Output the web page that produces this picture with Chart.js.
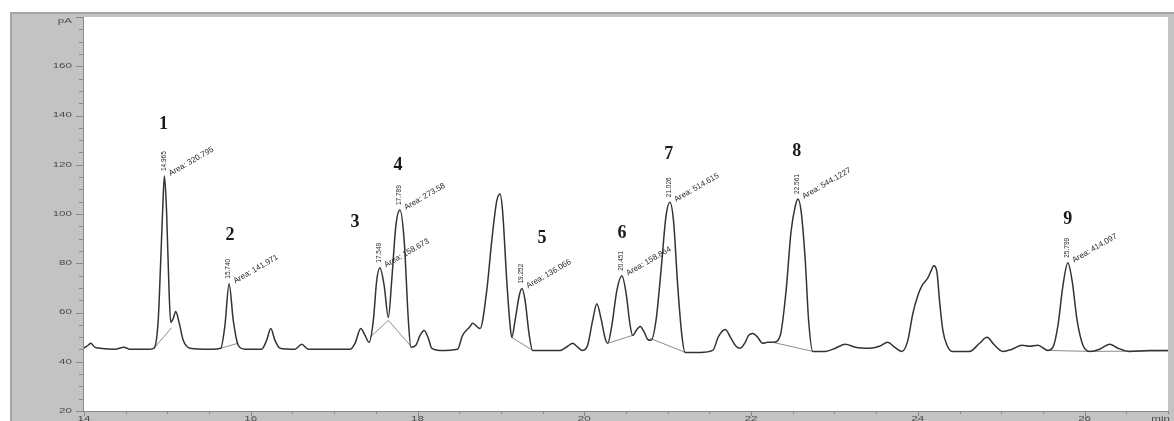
<!DOCTYPE html>
<html>
<head>
<meta charset="utf-8">
<script src="https://cdn.jsdelivr.net/npm/chart.js@4.4.1/dist/chart.umd.min.js"></script>
<style>
  html, body { margin: 0; padding: 0; background: #fff; overflow: hidden; }
  #wrap { position: relative; width: 1174px; height: 421px; }
</style>
</head>
<body>
<div id="wrap"><canvas id="c" width="1174" height="421"></canvas></div>
<script>
// Detector trace: retention time (min) and signal (pA)
const traceTime = [
  14.00, 14.05, 14.08, 14.13, 14.19, 14.37, 14.48, 14.55, 14.79, 14.84,
  14.89, 14.92, 14.95, 14.965, 14.99, 15.02, 15.04, 15.07, 15.10, 15.14,
  15.19, 15.27, 15.51, 15.64, 15.69, 15.740, 15.79, 15.85, 15.93, 16.13,
  16.19, 16.24, 16.29, 16.35, 16.53, 16.61, 16.69, 17.19, 17.25, 17.32,
  17.37, 17.42, 17.47, 17.51, 17.549, 17.60, 17.65, 17.69, 17.74, 17.789,
  17.84, 17.89, 17.92, 17.98, 18.03, 18.08, 18.13, 18.17, 18.27, 18.48,
  18.54, 18.63, 18.66, 18.75, 18.83, 18.89, 18.95, 18.99, 19.02, 19.07,
  19.11, 19.13, 19.17, 19.22, 19.252, 19.29, 19.34, 19.38, 19.53, 19.71,
  19.80, 19.86, 19.92, 19.98, 20.04, 20.10, 20.15, 20.20, 20.25, 20.28,
  20.33, 20.39, 20.451, 20.50, 20.55, 20.58, 20.63, 20.67, 20.72, 20.76,
  20.80, 20.86, 20.92, 20.98, 21.026, 21.07, 21.12, 21.17, 21.21, 21.39,
  21.54, 21.61, 21.69, 21.76, 21.82, 21.87, 21.93, 21.97, 22.02, 22.07,
  22.14, 22.20, 22.27, 22.35, 22.42, 22.48, 22.53, 22.561, 22.60, 22.65,
  22.69, 22.74, 22.89, 23.01, 23.13, 23.25, 23.42, 23.54, 23.64, 23.72,
  23.81, 23.88, 23.94, 24.00, 24.05, 24.12, 24.16, 24.19, 24.23, 24.26,
  24.30, 24.35, 24.41, 24.62, 24.74, 24.83, 24.91, 25.02, 25.13, 25.25,
  25.34, 25.44, 25.56, 25.62, 25.68, 25.74, 25.799, 25.85, 25.91, 25.98,
  26.06, 26.18, 26.30, 26.40, 26.54, 26.78, 27.00
];
const traceSignal = [
  45.5, 46.7, 47.5, 45.9, 45.5, 45.1, 45.9, 45.1, 45.1, 45.5,
  56.8, 81.0, 107.3, 115.4, 101.2, 68.9, 56.0, 57.6, 60.4, 56.0,
  48.7, 45.5, 45.1, 45.5, 54.7, 71.7, 56.8, 46.7, 45.1, 45.1,
  48.7, 53.5, 48.7, 45.5, 45.1, 47.1, 45.1, 45.1, 47.5, 53.5,
  50.7, 47.9, 56.8, 72.9, 78.2, 70.9, 58.0, 72.9, 95.2, 101.6,
  89.1, 56.8, 45.9, 46.7, 50.7, 52.7, 49.5, 45.5, 44.6, 45.1,
  50.7, 54.3, 55.6, 53.5, 68.9, 89.1, 105.3, 108.1, 101.2, 72.9,
  54.7, 49.9, 56.8, 66.9, 69.7, 64.8, 50.7, 44.6, 44.6, 44.6,
  46.3, 47.5, 45.9, 44.6, 46.7, 56.8, 63.6, 57.6, 49.5, 47.5,
  54.7, 68.9, 74.9, 68.1, 54.7, 50.7, 53.1, 54.3, 51.9, 49.1,
  48.7, 56.8, 77.0, 99.2, 104.8, 97.2, 70.9, 50.7, 43.8, 43.8,
  44.6, 50.3, 53.1, 49.5, 46.3, 45.5, 47.9, 50.7, 51.5, 50.3,
  47.5, 47.9, 47.9, 50.7, 68.9, 93.1, 103.2, 106.1, 101.2, 81.0,
  56.8, 44.2, 44.2, 45.5, 47.1, 45.9, 45.5, 46.3, 47.9, 45.9,
  44.2, 48.7, 59.6, 66.9, 70.9, 74.1, 77.0, 79.0, 76.2, 64.8,
  52.7, 46.7, 44.2, 44.2, 47.5, 49.9, 47.1, 44.2, 45.1, 46.7,
  46.3, 46.7, 44.6, 45.9, 54.7, 70.9, 80.2, 72.9, 56.8, 46.7,
  44.2, 45.1, 47.1, 45.5, 44.2, 44.6, 44.6
];

// Integrated peaks: number, retention time, apex height, area
const peakNumber = ['1', '2', '3', '4', '5', '6', '7', '8', '9'];
const peakTime   = [14.965, 15.740, 17.549, 17.789, 19.252, 20.451, 21.026, 22.561, 25.799];
const peakHeight = [115.4, 71.7, 78.2, 101.6, 69.7, 74.9, 104.8, 106.1, 80.2];
const peakArea   = ['320.795', '141.971', '158.673', '273.58', '136.066', '158.864', '514.615', '544.1227', '414.097'];

// Integration baselines, one list of points per segment
const baselineTime = [
  [14.84, 15.05],
  [15.64, 15.85],
  [17.43, 17.65, 17.92],
  [19.13, 19.38],
  [20.28, 20.58],
  [20.79, 21.21],
  [22.26, 22.74],
  [25.56, 26.06, 27.00]
];
const baselineSignal = [
  [45.5, 53.8],
  [45.5, 47.5],
  [49.9, 56.8, 46.3],
  [49.9, 44.6],
  [47.5, 50.7],
  [49.5, 43.8],
  [47.9, 44.2],
  [44.6, 44.2, 44.4]
];

// Axis labelling
const xTickLabels = ['14', '16', '18', '20', '22', '24', '26'];
const yTickLabels = ['20', '40', '60', '80', '100', '120', '140', '160'];
const xUnit = 'min';
const yUnit = 'pA';

// Placement of the peak numbers relative to each apex (px)
const numberShift = [[-1, 52], [1, 48], [-25, 45], [-2, 45], [20, 50], [0, 42], [-1, 48], [-1, 48], [0, 43]];

const sansFont = '"Liberation Sans", Arial, sans-serif';

const traceData = traceTime.map((t, i) => ({ x: t, y: traceSignal[i] }));
const baselineSets = baselineTime.map((seg, k) => ({
  data: seg.map((t, i) => ({ x: t, y: baselineSignal[k][i] })),
  borderColor: '#8c8c8c',
  borderWidth: 1,
  pointRadius: 0,
  tension: 0,
  order: 2
}));

// Axis tick labels use a wide, low glyph shape
function axisText(ctx, text, x, y, align, baseline) {
  ctx.save();
  ctx.translate(x, y);
  ctx.scale(1.45, 0.8);
  ctx.textAlign = align;
  ctx.textBaseline = baseline;
  ctx.fillText(text, 0, 0);
  ctx.restore();
}

const framePlugin = {
  id: 'frame',
  beforeDraw(chart) {
    const ctx = chart.ctx, W = chart.width, H = chart.height, a = chart.chartArea;
    ctx.save();
    ctx.fillStyle = '#ffffff';
    ctx.fillRect(0, 0, W, H);
    ctx.fillStyle = '#c3c3c3';
    ctx.fillRect(10, 12, W - 10, H - 12);
    ctx.fillStyle = '#a4a4a4';
    ctx.fillRect(10, 12, 2, H - 12);
    ctx.fillRect(10, 12, W - 10, 2);
    ctx.fillStyle = '#ffffff';
    ctx.fillRect(a.left, a.top, a.right - a.left, a.bottom - a.top);
    ctx.restore();
  },
  afterDraw(chart) {
    const ctx = chart.ctx, a = chart.chartArea;
    const xs = chart.scales.x, ys = chart.scales.y;
    ctx.save();
    ctx.strokeStyle = '#8a8a8a';
    ctx.lineWidth = 1;
    ctx.beginPath();
    ctx.moveTo(a.left - 0.5, a.top);
    ctx.lineTo(a.left - 0.5, a.bottom + 0.5);
    ctx.lineTo(a.right, a.bottom + 0.5);
    ctx.stroke();
    // y ticks every 5 pA, longer every 20
    ctx.beginPath();
    for (let v = ys.min; v <= ys.max + 1e-6; v += 5) {
      const y = Math.round(ys.getPixelForValue(v)) + 0.5;
      const major = Math.abs(v % 20) < 1e-6;
      ctx.moveTo(a.left - (major ? 8 : 5), y);
      ctx.lineTo(a.left, y);
    }
    // x ticks every 0.5 min, longer every 2 min
    for (let v = xs.min; v <= xs.max + 1e-6; v += 0.5) {
      const x = Math.round(xs.getPixelForValue(v)) + 0.5;
      const major = Math.abs(v % 2) < 1e-6;
      ctx.moveTo(x, a.bottom);
      ctx.lineTo(x, a.bottom + (major ? 5 : 3));
    }
    ctx.stroke();

    ctx.fillStyle = '#4a4a4a';
    ctx.font = '8px ' + sansFont;
    yTickLabels.forEach(s => {
      axisText(ctx, s, a.left - 12, ys.getPixelForValue(Number(s)), 'right', 'middle');
    });
    xTickLabels.forEach(s => {
      axisText(ctx, s, xs.getPixelForValue(Number(s)), a.bottom + 5, 'center', 'top');
    });
    axisText(ctx, yUnit, a.left - 12, a.top + 4, 'right', 'middle');
    axisText(ctx, xUnit, chart.width - 4, a.bottom + 5, 'right', 'top');
    ctx.restore();
  }
};

const peakLabelPlugin = {
  id: 'peakLabels',
  afterDatasetsDraw(chart) {
    const ctx = chart.ctx, xs = chart.scales.x, ys = chart.scales.y;
    ctx.save();
    peakTime.forEach((t, i) => {
      const px = xs.getPixelForValue(t);
      const py = ys.getPixelForValue(peakHeight[i]);
      ctx.fillStyle = '#262626';
      // retention time, written upward above the apex
      ctx.save();
      ctx.translate(px - 0.5, py - 5);
      ctx.rotate(-Math.PI / 2);
      ctx.font = '6.5px ' + sansFont;
      ctx.textAlign = 'left';
      ctx.textBaseline = 'middle';
      ctx.fillText(t.toFixed(3), 0, 0);
      ctx.restore();
      // peak area, slanted up to the right
      ctx.save();
      ctx.translate(px + 5, py - 2);
      ctx.rotate(-30 * Math.PI / 180);
      ctx.font = '8px ' + sansFont;
      ctx.textAlign = 'left';
      ctx.textBaseline = 'middle';
      ctx.fillText('Area: ' + peakArea[i], 0, 0);
      ctx.restore();
      // peak number
      ctx.font = 'bold 18px "Liberation Serif", "Times New Roman", serif';
      ctx.textAlign = 'center';
      ctx.textBaseline = 'middle';
      ctx.fillStyle = '#1a1a1a';
      ctx.fillText(peakNumber[i], px + numberShift[i][0], py - numberShift[i][1]);
    });
    ctx.restore();
  }
};

new Chart(document.getElementById('c'), {
  type: 'line',
  data: {
    datasets: [
      {
        data: traceData,
        borderColor: '#333333',
        borderWidth: 1.5,
        pointRadius: 0,
        cubicInterpolationMode: 'monotone',
        order: 1
      },
      ...baselineSets
    ]
  },
  options: {
    responsive: false,
    animation: false,
    devicePixelRatio: 1,
    layout: { padding: { left: 0, top: 17, right: 6, bottom: 0 } },
    plugins: { legend: { display: false }, tooltip: { enabled: false } },
    scales: {
      x: {
        type: 'linear',
        min: 14,
        max: 27,
        afterFit(scale) { scale.height = 10; },
        grid: { display: false, drawTicks: false },
        border: { display: false },
        ticks: { display: false, stepSize: 0.5 }
      },
      y: {
        type: 'linear',
        min: 20,
        max: 180,
        afterFit(scale) { scale.width = 84; },
        grid: { display: false, drawTicks: false },
        border: { display: false },
        ticks: { display: false, stepSize: 20 }
      }
    }
  },
  plugins: [framePlugin, peakLabelPlugin]
});
</script>
</body>
</html>
